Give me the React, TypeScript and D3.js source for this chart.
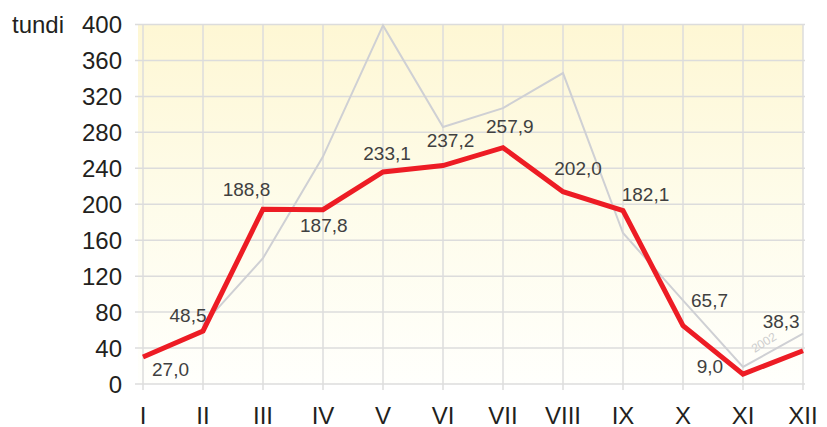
import React from "react";
import * as d3 from "d3";

const months = ["I", "II", "III", "IV", "V", "VI", "VII", "VIII", "IX", "X", "XI", "XII"];
// plotted red series (2003)
const redValues = [30, 59, 194.5, 194, 236, 243, 263, 214, 193, 65, 11, 37];
// printed labels for the red series
const redLabels = [27.0, 48.5, 188.8, 187.8, 233.1, 237.2, 257.9, 202.0, 182.1, 65.7, 9.0, 38.3];
// gray comparison series (2002)
const grayValues: (number | null)[] = [null, 66, 140, 253, 399, 286, 307, 346, 168, 93, 19, 56];
const yTicks = [0, 40, 80, 120, 160, 200, 240, 280, 320, 360, 400];

const W = 827;
const H = 427;
const x0 = 143, x1 = 803;
const yTop = 24.5, yBottom = 384;

// label offsets (layout only)
const labelOffsets: [number, number][] = [
  [9, 19], [-33.5, -8.5], [-40.3, -13.2], [-23, 22], [-19.7, -12], [-16.3, -19],
  [-17, -14.3], [-8.7, -16.7], [-1.3, -9.8], [8, -18.3], [-46.3, -1.4], [-40.3, -22.4],
];

export default function App() {
  const x = d3.scalePoint<string>().domain(months).range([x0, x1]);
  const y = d3.scaleLinear().domain([0, 400]).range([yBottom, yTop]);
  const fmt = (v: number) => d3.format(".1f")(v).replace(".", ",");

  const redLine = d3
    .line<number>()
    .x((_, i) => x(months[i])!)
    .y((d) => y(d));
  const grayLine = d3
    .line<number | null>()
    .defined((d) => d !== null)
    .x((_, i) => x(months[i])!)
    .y((d) => y(d as number));

  const font = "'Liberation Sans', Arial, Helvetica, sans-serif";

  return (
    <svg
      width={W}
      height={H}
      style={{ position: "fixed", left: 0, top: 0, background: "#fff" }}
      fontFamily={font}
    >
      <defs>
        <linearGradient id="bg" x1="0" y1="0" x2="0" y2="1">
          <stop offset="0%" stopColor="#fef7d4" />
          <stop offset="50%" stopColor="#fefcea" />
          <stop offset="100%" stopColor="#fffffc" />
        </linearGradient>
      </defs>
      <rect x={138} y={yTop} width={x1 - 138} height={yBottom - yTop} fill="url(#bg)" />
      {/* horizontal grid */}
      {yTicks.map((t) => (
        <line key={"h" + t} x1={135} x2={805} y1={y(t)} y2={y(t)} stroke="#dcdcdc" strokeWidth={1.5} />
      ))}
      {/* vertical grid */}
      {months.map((m) => (
        <line key={"v" + m} x1={x(m)} x2={x(m)} y1={yTop} y2={390} stroke="#dcdcdc" strokeWidth={1.5} />
      ))}
      {/* y tick labels */}
      {yTicks.map((t) => (
        <text key={"yt" + t} x={122} y={y(t) + 8.5} textAnchor="end" fontSize={24} fill="#231f20">
          {t}
        </text>
      ))}
      <text x={12} y={y(400) + 8.5} fontSize={24} fill="#231f20">tundi</text>
      {/* x tick labels */}
      {months.map((m) => (
        <text key={"xt" + m} x={x(m)} y={423.5} textAnchor="middle" fontSize={24} fill="#231f20">
          {m}
        </text>
      ))}
      {/* gray line */}
      <path d={grayLine(grayValues) || ""} fill="none" stroke="#cfd0d4" strokeWidth={2} />
      <text
        transform={`translate(766,346) rotate(-32)`}
        textAnchor="middle"
        fontSize={12}
        fill="#cdcdcd"
      >
        2002
      </text>
      {/* red line */}
      <path
        d={redLine(redValues) || ""}
        fill="none"
        stroke="#ed1c24"
        strokeWidth={5}
        strokeLinejoin="miter"
      />
      {/* data labels */}
      {redLabels.map((v, i) => (
        <text
          key={"l" + i}
          x={x(months[i])! + labelOffsets[i][0]}
          y={y(redValues[i]) + labelOffsets[i][1]}
          fontSize={19}
          fill="#404040"
        >
          {fmt(v)}
        </text>
      ))}
    </svg>
  );
}
